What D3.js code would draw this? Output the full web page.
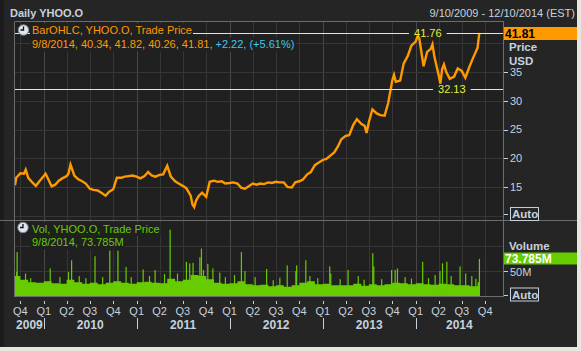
<!DOCTYPE html>
<html><head><meta charset="utf-8">
<script src="https://cdn.jsdelivr.net/npm/d3@7"></script>
<style>
html,body{margin:0;padding:0;background:#e6e6de;}
svg{display:block;font-family:"Liberation Sans",Arial,sans-serif;}
</style>
</head><body>
<svg id="c" width="581" height="351"></svg>
<script>
// ---------- DATA ----------
const priceDates = ["2009-09-10","2009-09-15","2009-10-01","2009-10-15","2009-10-22","2009-11-01","2009-11-15","2009-12-01","2009-12-15",
"2010-01-01","2010-01-08","2010-01-15","2010-02-01","2010-02-15","2010-03-01","2010-03-15","2010-04-01","2010-04-08","2010-04-16","2010-05-01","2010-05-15","2010-06-01","2010-06-15","2010-07-01","2010-07-15","2010-08-01","2010-08-15","2010-09-01","2010-09-15","2010-10-01","2010-10-15","2010-11-01","2010-11-15","2010-12-01","2010-12-15",
"2011-01-01","2011-01-15","2011-02-01","2011-02-15","2011-03-01","2011-03-15","2011-04-01","2011-04-15","2011-05-01","2011-05-15","2011-06-01","2011-06-15","2011-07-01","2011-07-15","2011-08-01","2011-08-08","2011-08-15","2011-08-22","2011-09-01","2011-09-15","2011-10-01","2011-10-15","2011-11-01","2011-11-15","2011-12-01","2011-12-15",
"2012-01-01","2012-01-15","2012-02-01","2012-02-15","2012-03-01","2012-03-15","2012-04-01","2012-04-15","2012-05-01","2012-05-15","2012-06-01","2012-06-15","2012-07-01","2012-07-15","2012-08-01","2012-08-15","2012-09-01","2012-09-15","2012-10-01","2012-10-15","2012-11-01","2012-11-15","2012-12-01","2012-12-15",
"2013-01-01","2013-01-15","2013-02-01","2013-02-15","2013-03-01","2013-03-15","2013-04-01","2013-04-15","2013-05-01","2013-05-15","2013-06-01","2013-06-15","2013-06-22","2013-07-01","2013-07-15","2013-08-01","2013-08-15","2013-09-01","2013-09-15","2013-10-01","2013-10-08","2013-10-15","2013-11-01","2013-11-15","2013-12-01","2013-12-15",
"2014-01-01","2014-01-08","2014-01-15","2014-01-25","2014-02-01","2014-02-15","2014-03-01","2014-03-08","2014-03-15","2014-04-01","2014-04-08","2014-04-15","2014-04-22","2014-05-01","2014-05-15","2014-06-01","2014-06-15","2014-07-01","2014-07-15","2014-08-01","2014-08-15","2014-09-01","2014-09-08"];
const priceValues = [15.3,16.6,17.4,17.3,18.0,16.6,15.9,15.2,16.0,
16.9,17.3,16.7,15.1,15.4,16.1,16.5,16.9,17.3,18.9,17.0,16.4,16.0,15.6,14.7,14.5,14.4,14.0,13.5,14.2,14.6,16.6,16.6,16.8,16.9,17.0,
16.8,16.5,16.9,17.6,17.0,16.8,17.1,17.2,18.7,16.8,16.0,15.6,15.2,14.8,13.5,12.0,11.5,12.6,13.4,14.0,13.3,15.9,16.1,15.9,16.0,15.6,
15.7,15.8,15.6,14.9,14.7,15.1,15.6,15.4,15.6,15.5,15.8,15.7,15.9,15.8,15.8,15.0,14.9,15.8,16.0,16.3,17.2,17.6,18.8,19.2,
19.7,19.9,20.5,21.0,22.0,23.3,23.9,24.0,25.8,26.8,26.0,25.6,24.4,26.3,28.5,27.8,27.5,27.4,29.6,33.5,34.5,33.3,33.5,36.5,37.8,39.6,
40.3,41.2,40.9,38.0,36.0,38.5,39.0,39.8,37.8,34.5,33.0,35.5,36.3,35.0,33.8,34.2,35.6,35.2,34.0,36.0,37.5,39.2,41.81];

const volBaseDates = ["2009-09-10","2009-10-01","2009-11-01","2009-12-01","2010-01-01","2010-02-01","2010-03-01","2010-04-01","2010-05-01","2010-06-01","2010-07-01","2010-08-01","2010-09-01","2010-10-01","2010-11-01","2010-12-01",
"2011-01-01","2011-02-01","2011-03-01","2011-04-01","2011-05-01","2011-06-01","2011-07-01","2011-08-01","2011-09-01","2011-10-01","2011-11-01","2011-12-01",
"2012-01-01","2012-02-01","2012-03-01","2012-04-01","2012-05-01","2012-06-01","2012-07-01","2012-08-01","2012-09-01","2012-10-01","2012-11-01","2012-12-01",
"2013-01-01","2013-02-01","2013-03-01","2013-04-01","2013-05-01","2013-06-01","2013-07-01","2013-08-01","2013-09-01","2013-10-01","2013-11-01","2013-12-01",
"2014-01-01","2014-02-01","2014-03-01","2014-04-01","2014-05-01","2014-06-01","2014-07-01","2014-08-01","2014-09-01","2014-09-09"];
const volBaseValues = [40,33,28,27,30,26,25,33,28,25,27,24,27,30,27,25,
28,29,27,26,35,30,33,42,40,34,27,25,
26,30,24,22,23,20,22,19,22,27,30,24,
25,22,22,22,25,21,24,22,24,27,26,24,
26,24,23,25,24,22,22,20,28,28];

const volSpikeDates = ["2009-09-16","2009-09-18","2009-10-21","2009-11-10","2010-01-26","2010-03-05","2010-04-08","2010-04-20","2010-05-20","2010-06-15","2010-07-21","2010-08-20","2010-09-17","2010-10-19","2010-11-20","2010-12-10",
"2011-01-26","2011-02-20","2011-03-14","2011-04-20","2011-05-12","2011-06-10","2011-07-15","2011-07-28","2011-08-10","2011-09-06","2011-09-12","2011-09-20","2011-10-07","2011-10-27","2011-11-23","2011-12-15",
"2012-01-20","2012-02-16","2012-03-01","2012-04-10","2012-05-25","2012-06-20","2012-07-16","2012-08-14","2012-09-17","2012-09-20","2012-10-26","2012-11-11","2012-12-12",
"2013-01-28","2013-02-01","2013-03-10","2013-04-10","2013-05-20","2013-06-12","2013-07-16","2013-07-20","2013-08-20","2013-09-28","2013-10-12","2013-10-21","2013-11-20","2013-12-15",
"2014-01-28","2014-02-20","2014-03-18","2014-04-06","2014-04-16","2014-05-03","2014-05-20","2014-06-24","2014-07-16","2014-08-09","2014-08-25","2014-09-08"];
const volSpikeValues = [48,87,45,36,55,38,48,71,40,36,79,38,90,90,58,38,
53,40,52,44,131,45,68,65,66,77,94,52,64,55,47,38,
42,87,50,38,54,32,37,61,50,61,71,40,36,
59,45,34,52,40,33,85,59,34,52,52,55,38,35,
68,36,42,50,65,68,40,59,45,40,35,73.785];

const priceGridValues = [10,15,20,25,30,35,40];
const priceTickValues = [15,20,25,30,35];
const volGridValues = [50,100];
const volTickValues = [50];
const yearLabels = ["2009","2010","2011","2012","2013","2014"];
const quarterNames = ["Q1","Q2","Q3","Q4"];
const lastPrice = 41.81, highPrice = 41.76, lowPrice = 32.13, lastVolume = 73.785;
const legendPrice1 = "BarOHLC, YHOO.O, Trade Price";
const legendPrice2a = "9/8/2014, 40.34, 41.82, 40.26, 41.81, ";
const legendPrice2b = "+2.22, (+5.61%)";
const legendVol1 = "Vol, YHOO.O, Trade Price";
const legendVol2 = "9/8/2014, 73.785M";

// ---------- SETUP ----------
const parse = d3.timeParse("%Y-%m-%d");
const price = priceDates.map((d,i)=>({date:parse(d), v:priceValues[i]}));
const volBase = volBaseDates.map((d,i)=>({date:parse(d), v:volBaseValues[i]}));
const volSpikes = volSpikeDates.map((d,i)=>({date:parse(d), v:volSpikeValues[i]}));

const C = {outer:"#252525", plot:"#202020", grid:"#363636", gridYear:"#474747", border:"#6c6c6c",
  text:"#c6d2de", orange:"#ff9900", green:"#66cc00", yellow:"#ffff00", yellowText:"#e4f03a", cyan:"#3cc8f4"};

const L = 14.5, R = 503, T = 22, DIV = 221, B = 297;
const x = d3.scaleTime().domain([parse("2009-09-10"), parse("2014-12-10")]).range([15, 503]);
const yP = d3.scaleLinear().domain([15, 35]).range([187, 72]);
const yV = d3.scaleLinear().domain([0, 50]).range([296.5, 271]);

const svg = d3.select("#c");
svg.append("rect").attr("width",581).attr("height",351).attr("fill","#e6e6de");
svg.append("rect").attr("width",577).attr("height",347).attr("fill",C.outer);
svg.append("rect").attr("width",4).attr("height",347).attr("fill","#1b1b1b");
svg.append("rect").attr("x",L).attr("y",T).attr("width",R-L).attr("height",B-T).attr("fill",C.plot);

// title
svg.append("text").attr("x",10).attr("y",17).attr("font-size",11).attr("font-weight","bold").attr("fill",C.text).text("Daily YHOO.O");
svg.append("text").attr("x",575).attr("y",17).attr("font-size",11).attr("text-anchor","end").attr("fill",C.text).text("9/10/2009 - 12/10/2014 (EST)");

// grid
const quarters = x.ticks(d3.timeMonth.every(3));
const g = svg.append("g");
g.selectAll("line.v").data(quarters).join("line")
  .attr("x1",d=>Math.round(x(d))+0.5).attr("x2",d=>Math.round(x(d))+0.5).attr("y1",T).attr("y2",B)
  .attr("stroke",d=>d.getMonth()===0?C.gridYear:C.grid);
g.selectAll("line.hp").data(priceGridValues).join("line")
  .attr("x1",L).attr("x2",R).attr("y1",d=>Math.round(yP(d))+0.5).attr("y2",d=>Math.round(yP(d))+0.5).attr("stroke",C.grid);
const gv = svg.append("g");
gv.selectAll("line").data(volGridValues).join("line")
  .attr("x1",L).attr("x2",R).attr("y1",d=>Math.round(yV(d))+0.5).attr("y2",d=>Math.round(yV(d))+0.5).attr("stroke",C.grid);

// volume
const area = d3.area().curve(d3.curveStepAfter).x(d=>x(d.date)).y0(yV(0)).y1(d=>yV(d.v));
svg.append("path").datum(volBase).attr("d",area).attr("fill",C.green);
svg.selectAll("rect.sp").data(volSpikes).join("rect")
  .attr("x",d=>x(d.date)-0.5).attr("width",1.2).attr("y",d=>yV(d.v)).attr("height",d=>yV(0)-yV(d.v)).attr("fill",C.green);

// price line
const line = d3.line().x(d=>x(d.date)).y(d=>yP(d.v));
svg.append("path").datum(price).attr("d",line).attr("fill","none").attr("stroke",C.orange).attr("stroke-width",2.4).attr("stroke-linejoin","miter");

// high / low lines
function hline(val, labelX, label){
  const y = Math.round(yP(val))+0.5;
  svg.append("line").attr("x1",L).attr("x2",R).attr("y1",y).attr("y2",y).attr("stroke",C.yellow);
  if(label){
    const t = svg.append("text").attr("x",labelX).attr("y",y).attr("dy","0.35em").attr("text-anchor","middle").attr("font-size",11).attr("fill",C.yellowText).text(label);
    const bb = t.node().getBBox();
    svg.insert("rect", function(){return t.node();}).attr("x",bb.x-5).attr("y",y-2).attr("width",bb.width+10).attr("height",4).attr("fill",C.plot);
  }
}
hline(highPrice, 427.8, highPrice.toFixed(2));
hline(lowPrice, 451.8, lowPrice.toFixed(2));

// borders
svg.append("line").attr("x1",L).attr("x2",R).attr("y1",T-0.5).attr("y2",T-0.5).attr("stroke",C.border);
svg.append("line").attr("x1",L).attr("x2",L).attr("y1",T).attr("y2",B).attr("stroke",C.border);
svg.append("line").attr("x1",R+0.5).attr("x2",R+0.5).attr("y1",T-1).attr("y2",B).attr("stroke",C.border);
svg.append("line").attr("x1",L).attr("x2",R+1).attr("y1",B-0.5).attr("y2",B-0.5).attr("stroke",C.border);
svg.append("line").attr("x1",0).attr("x2",577).attr("y1",DIV-0.5).attr("y2",DIV-0.5).attr("stroke",C.border);

// legend
function clock(cx, cy){
  svg.append("circle").attr("cx",cx).attr("cy",cy).attr("r",5.2).attr("fill","#dfe6ee").attr("stroke","#7d8a99");
  svg.append("path").attr("d",`M${cx},${cy-3.5}V${cy}H${cx-3}`).attr("stroke","#111").attr("stroke-width",1.3).attr("fill","none");
}
function legendText(x0, y0, parts){
  const t = svg.append("text").attr("x",x0).attr("y",y0).attr("dy","0.35em").attr("font-size",11);
  parts.forEach(p=>t.append("tspan").attr("fill",p[1]).text(p[0]));
  const bb = t.node().getBBox();
  svg.insert("rect",function(){return t.node();}).attr("x",x0-2).attr("y",y0-7).attr("width",bb.width+3).attr("height",14).attr("fill",C.plot);
}
legendText(32, 30.5, [[legendPrice1, C.orange]]);
legendText(32, 44.5, [[legendPrice2a, C.orange],[legendPrice2b, C.cyan]]);
clock(23.5, 30);
legendText(32, 229, [[legendVol1, C.green]]);
legendText(32, 242.5, [[legendVol2, C.green]]);
clock(23, 227.5);

// right axis: price
const ax = svg.append("g");
ax.selectAll("line.t").data(priceTickValues).join("line")
  .attr("x1",504).attr("x2",508).attr("y1",d=>Math.round(yP(d))+0.5).attr("y2",d=>Math.round(yP(d))+0.5).attr("stroke",C.text);
ax.selectAll("text.t").data(priceTickValues).join("text")
  .attr("x",510).attr("y",d=>yP(d)).attr("dy","0.35em").attr("font-size",11).attr("fill",C.text).text(d=>d);
// last price box
const lpY = yP(lastPrice);
svg.append("rect").attr("x",504).attr("y",Math.round(lpY)-6).attr("width",73).attr("height",13).attr("fill",C.orange);
svg.append("text").attr("x",505).attr("y",lpY+0.5).attr("dy","0.36em").attr("font-size",12).attr("font-weight","bold").attr("fill","#000").text(lastPrice.toFixed(2));
svg.append("text").attr("x",509).attr("y",46.5).attr("dy","0.35em").attr("font-size",11.5).attr("font-weight","bold").attr("fill",C.text).text("Price");
svg.append("text").attr("x",509).attr("y",61).attr("dy","0.35em").attr("font-size",11.5).attr("font-weight","bold").attr("fill",C.text).text("USD");

function autoBox(yc){
  svg.append("line").attr("x1",504).attr("x2",508).attr("y1",Math.round(yc)+0.5).attr("y2",Math.round(yc)+0.5).attr("stroke",C.text);
  svg.append("rect").attr("x",510.5).attr("y",yc-6.5).attr("width",28).attr("height",13).attr("fill","none").attr("stroke","#c8d2dc");
  svg.append("text").attr("x",512).attr("y",yc).attr("dy","0.36em").attr("font-size",11.5).attr("font-weight","bold").attr("fill",C.text).text("Auto");
}
autoBox(yP(10.3));

// right axis: volume
svg.append("text").attr("x",509).attr("y",245.5).attr("dy","0.35em").attr("font-size",11.5).attr("font-weight","bold").attr("fill",C.text).text("Volume");
const lvY = yV(lastVolume);
svg.append("rect").attr("x",504).attr("y",Math.round(lvY)-6.5).attr("width",73).attr("height",12).attr("fill",C.green);
svg.append("text").attr("x",505).attr("y",lvY-0.5).attr("dy","0.36em").attr("font-size",12).attr("font-weight","bold").attr("fill","#fff").text(lastVolume.toFixed(3)+"M");
ax.selectAll("line.v").data(volTickValues).join("line")
  .attr("x1",504).attr("x2",508).attr("y1",d=>Math.round(yV(d))+0.5).attr("y2",d=>Math.round(yV(d))+0.5).attr("stroke",C.text);
ax.selectAll("text.v").data(volTickValues).join("text")
  .attr("x",510).attr("y",d=>yV(d)+1).attr("dy","0.35em").attr("font-size",11).attr("fill",C.text).text(d=>d+"M");
autoBox(294.5);

// bottom axis
const bx = svg.append("g");
bx.selectAll("line").data(quarters).join("line")
  .attr("x1",d=>Math.round(x(d))+0.5).attr("x2",d=>Math.round(x(d))+0.5).attr("y1",301).attr("y2",304).attr("stroke",C.text);
bx.selectAll("text").data(quarters).join("text")
  .attr("x",d=>x(d)).attr("y",311.5).attr("dy","0.35em").attr("text-anchor","middle").attr("font-size",11).attr("fill",C.text)
  .text(d=>quarterNames[Math.floor(d.getMonth()/3)]);
const years = x.ticks(d3.timeYear.every(1));
bx.selectAll("line.y").data(years).join("line")
  .attr("x1",d=>Math.round(x(d))+0.5).attr("x2",d=>Math.round(x(d))+0.5).attr("y1",318).attr("y2",329).attr("stroke",C.text);
const [d0,d1] = x.domain();
bx.selectAll("text.y").data(yearLabels).join("text")
  .attr("x",yl=>{const s=new Date(+yl,0,1), e=new Date(+yl+1,0,1); return (x(s<d0?d0:s)+x(e>d1?d1:e))/2;})
  .attr("y",324.5).attr("dy","0.35em").attr("text-anchor","middle").attr("font-size",12).attr("font-weight","bold").attr("fill",C.text).text(d=>d);
</script>
</body></html>
